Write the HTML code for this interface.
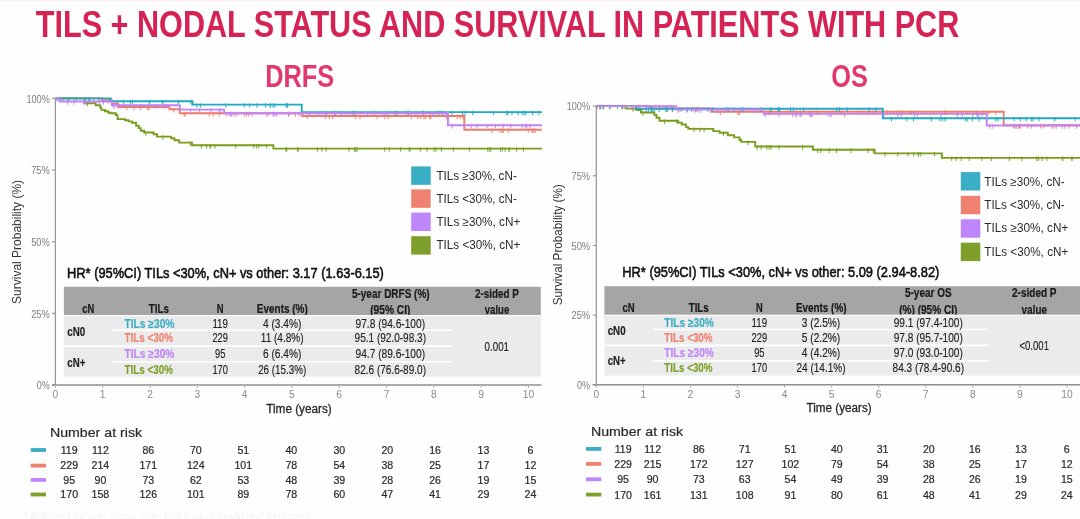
<!DOCTYPE html>
<html><head><meta charset="utf-8"><style>
html,body{margin:0;padding:0;background:#fff;width:1080px;height:519px;overflow:hidden}
svg{display:block;font-family:"Liberation Sans", sans-serif;filter:blur(0.4px)}
</style></head><body>
<svg width="1080" height="519" viewBox="0 0 1080 519">
<rect width="1080" height="519" fill="#fefefe"/>
<rect x="0" y="0" width="1080" height="1.5" fill="#fbeff1"/>
<text x="24" y="520" font-size="11" fill="#f3f3f3" textLength="286" lengthAdjust="spacingAndGlyphs">* Adjusted for age, tumor size, histological grade and treatment</text>
<text x="35.8" y="36.8" font-size="36.5" fill="#d52356" font-weight="bold" textLength="923.5" lengthAdjust="spacingAndGlyphs">TILS + NODAL STATUS AND SURVIVAL IN PATIENTS WITH PCR</text>
<text x="265.2" y="87.2" font-size="32.2" fill="#e3386d" font-weight="bold" textLength="69" lengthAdjust="spacingAndGlyphs">DRFS</text>
<text x="831.2" y="87.2" font-size="32.2" fill="#e3386d" font-weight="bold" textLength="36.6" lengthAdjust="spacingAndGlyphs">OS</text>
<path d="M55.4,98.4H85.2V103.2H95.6V105.2H100.2V107.6H101.4V109.9H104.9V111.3H108.3V112.8H111.2V113.3H115.8V115.1H117.6V119.1H125.1V120.3H128.6V121.4H132V122.8H136.1V125.8H138.8V128.1H140.8V130.8H144.2V132.5H153.6V134.2H157V136.6H171.1V138.3H174.5V140.3H179.2V142.6H192V145.3H273.4V148.6H541.9" fill="none" stroke="#7a9c1c" stroke-width="1.9" stroke-linejoin="miter"/>
<path d="M63.0,97.0V101.6M59.3,97.0V101.6M67.4,97.0V101.6M87.5,101.8V106.4M145.7,131.1V135.7M162.9,135.2V139.8M190.1,141.2V145.8M256.6,143.9V148.5M253.8,143.9V148.5M210.6,143.9V148.5M235.6,143.9V148.5M215.0,143.9V148.5M206.7,143.9V148.5M201.4,143.9V148.5M210.0,143.9V148.5M266.6,143.9V148.5M258.8,143.9V148.5M489.4,147.2V151.8M487.7,147.2V151.8M326.0,147.2V151.8M357.0,147.2V151.8M441.5,147.2V151.8M469.4,147.2V151.8M502.2,147.2V151.8M508.9,147.2V151.8M297.5,147.2V151.8M435.9,147.2V151.8M453.4,147.2V151.8M409.2,147.2V151.8M321.8,147.2V151.8M400.6,147.2V151.8M298.2,147.2V151.8M523.5,147.2V151.8M505.1,147.2V151.8M420.3,147.2V151.8M354.4,147.2V151.8M516.6,147.2V151.8M426.9,147.2V151.8M509.5,147.2V151.8M500.4,147.2V151.8M409.9,147.2V151.8M384.7,147.2V151.8M434.0,147.2V151.8M389.3,147.2V151.8M317.4,147.2V151.8M355.7,147.2V151.8M491.0,147.2V151.8M285.9,147.2V151.8M286.7,147.2V151.8M441.3,147.2V151.8M349.1,147.2V151.8" fill="none" stroke="#7a9c1c" stroke-width="1.1" opacity="0.85"/>
<path d="M55.4,98.4H101.9V100.2H112V103.5H118V107.0H169.4V109.3H179.8V113.2H302.5V116.0H464.3V129.8H541.9" fill="none" stroke="#f07c68" stroke-width="1.9" stroke-linejoin="miter"/>
<path d="M98.9,97.0V101.6M98.6,97.0V101.6M58.9,97.0V101.6M60.2,97.0V101.6M93.6,97.0V101.6M89.2,97.0V101.6M108.3,98.8V103.4M134.2,105.6V110.2M148.9,105.6V110.2M149.0,105.6V110.2M147.7,105.6V110.2M126.8,105.6V110.2M140.3,105.6V110.2M173.7,107.9V112.5M268.1,111.8V116.4M300.9,111.8V116.4M295.4,111.8V116.4M246.5,111.8V116.4M234.5,111.8V116.4M213.2,111.8V116.4M185.1,111.8V116.4M184.1,111.8V116.4M236.9,111.8V116.4M219.2,111.8V116.4M226.7,111.8V116.4M288.4,111.8V116.4M244.3,111.8V116.4M248.5,111.8V116.4M209.3,111.8V116.4M307.3,114.6V119.2M355.5,114.6V119.2M325.3,114.6V119.2M385.0,114.6V119.2M463.1,114.6V119.2M411.3,114.6V119.2M332.6,114.6V119.2M446.3,114.6V119.2M430.8,114.6V119.2M420.9,114.6V119.2M448.4,114.6V119.2M425.4,114.6V119.2M429.7,114.6V119.2M360.0,114.6V119.2M460.3,114.6V119.2M457.2,114.6V119.2M329.3,114.6V119.2M424.0,114.6V119.2M417.8,114.6V119.2M377.2,114.6V119.2M388.3,114.6V119.2M502.3,128.4V133.0M535.2,128.4V133.0M503.2,128.4V133.0M528.2,128.4V133.0M492.1,128.4V133.0M532.0,128.4V133.0M533.3,128.4V133.0M500.2,128.4V133.0M508.2,128.4V133.0M534.9,128.4V133.0" fill="none" stroke="#f07c68" stroke-width="1.1" opacity="0.85"/>
<path d="M55.4,98.4H110.7V101.2H192.5V104.6H301.7V112.1H541.9" fill="none" stroke="#22a9c2" stroke-width="1.9" stroke-linejoin="miter"/>
<path d="M69.1,97.0V101.6M85.4,97.0V101.6M76.1,97.0V101.6M88.6,97.0V101.6M89.8,97.0V101.6M59.9,97.0V101.6M57.1,97.0V101.6M178.5,99.8V104.4M132.4,99.8V104.4M130.4,99.8V104.4M191.2,99.8V104.4M149.2,99.8V104.4M178.4,99.8V104.4M149.7,99.8V104.4M162.7,99.8V104.4M123.7,99.8V104.4M162.4,99.8V104.4M286.6,103.2V107.8M249.6,103.2V107.8M273.0,103.2V107.8M265.5,103.2V107.8M200.4,103.2V107.8M274.8,103.2V107.8M256.9,103.2V107.8M225.8,103.2V107.8M196.8,103.2V107.8M286.3,103.2V107.8M244.2,103.2V107.8M270.6,103.2V107.8M287.7,103.2V107.8M270.1,103.2V107.8M522.1,110.7V115.3M396.8,110.7V115.3M493.5,110.7V115.3M408.6,110.7V115.3M525.6,110.7V115.3M512.0,110.7V115.3M325.9,110.7V115.3M335.1,110.7V115.3M354.4,110.7V115.3M532.7,110.7V115.3M406.6,110.7V115.3M452.0,110.7V115.3M374.4,110.7V115.3M423.5,110.7V115.3M394.6,110.7V115.3M386.3,110.7V115.3M442.1,110.7V115.3M441.9,110.7V115.3M518.1,110.7V115.3M465.1,110.7V115.3M524.0,110.7V115.3M506.7,110.7V115.3M538.8,110.7V115.3M462.6,110.7V115.3M341.6,110.7V115.3M507.7,110.7V115.3M532.5,110.7V115.3M518.2,110.7V115.3M438.3,110.7V115.3M472.7,110.7V115.3M353.0,110.7V115.3" fill="none" stroke="#22a9c2" stroke-width="1.1" opacity="0.85"/>
<path d="M55.4,98.4H60V101.5H112V105.2H179.8V109.6H224.1V113.2H447.9V125.2H541.9" fill="none" stroke="#c183f5" stroke-width="1.9" stroke-linejoin="miter"/>
<path d="M67.7,100.1V104.7M103.4,100.1V104.7M99.2,100.1V104.7M73.8,100.1V104.7M85.8,100.1V104.7M83.5,100.1V104.7M155.9,103.8V108.4M164.9,103.8V108.4M119.2,103.8V108.4M114.9,103.8V108.4M168.0,103.8V108.4M141.5,103.8V108.4M163.2,103.8V108.4M113.1,103.8V108.4M199.6,108.2V112.8M211.3,108.2V112.8M190.5,108.2V112.8M220.8,108.2V112.8M218.9,108.2V112.8M231.9,111.8V116.4M230.7,111.8V116.4M345.2,111.8V116.4M433.4,111.8V116.4M309.7,111.8V116.4M273.1,111.8V116.4M318.7,111.8V116.4M231.5,111.8V116.4M274.3,111.8V116.4M322.2,111.8V116.4M335.1,111.8V116.4M276.8,111.8V116.4M276.3,111.8V116.4M273.6,111.8V116.4M327.0,111.8V116.4M289.4,111.8V116.4M229.9,111.8V116.4M410.9,111.8V116.4M348.5,111.8V116.4M367.6,111.8V116.4M266.3,111.8V116.4M445.2,111.8V116.4M415.8,111.8V116.4M251.9,111.8V116.4M298.9,111.8V116.4M385.1,111.8V116.4M382.8,111.8V116.4M432.8,111.8V116.4M318.7,111.8V116.4M525.3,123.8V128.4M510.6,123.8V128.4M476.8,123.8V128.4M503.0,123.8V128.4M530.1,123.8V128.4M526.8,123.8V128.4M495.4,123.8V128.4M503.1,123.8V128.4M452.1,123.8V128.4M471.2,123.8V128.4M522.3,123.8V128.4M487.0,123.8V128.4" fill="none" stroke="#c183f5" stroke-width="1.1" opacity="0.85"/>
<path d="M596.3,106.1H626.1V108.6H636.5V110H640.9V112.5H654.3V114.9H656.5V117.8H659.4V120.8H678V122.6H681.7V124.5H686.1V127.1H688.3V128.9H713.3V131.1H719.6V132.7H727.8V135.2H734.1V137.4H739.6V140H741.1V141.9H755.2V146.5H812.9V149.7H874.7V153.4H941.9V157.9H1080" fill="none" stroke="#7a9c1c" stroke-width="1.9" stroke-linejoin="miter"/>
<path d="M603.6,104.7V109.3M624.1,104.7V109.3M600.8,104.7V109.3M633.0,107.2V111.8M642.9,111.1V115.7M664.5,119.4V124.0M677.0,119.4V124.0M694.1,127.5V132.1M704.1,127.5V132.1M699.9,127.5V132.1M723.4,131.3V135.9M748.1,140.5V145.1M766.9,145.1V149.7M802.5,145.1V149.7M761.2,145.1V149.7M769.2,145.1V149.7M757.3,145.1V149.7M771.1,145.1V149.7M778.9,145.1V149.7M867.8,148.3V152.9M836.6,148.3V152.9M820.7,148.3V152.9M829.3,148.3V152.9M873.2,148.3V152.9M817.7,148.3V152.9M851.0,148.3V152.9M836.5,148.3V152.9M918.8,152.0V156.6M897.8,152.0V156.6M920.8,152.0V156.6M908.1,152.0V156.6M918.1,152.0V156.6M934.5,152.0V156.6M913.6,152.0V156.6M885.0,152.0V156.6M951.7,156.5V161.1M1071.7,156.5V161.1M1009.4,156.5V161.1M969.3,156.5V161.1M1071.7,156.5V161.1M1021.7,156.5V161.1M1042.1,156.5V161.1M1062.8,156.5V161.1M981.8,156.5V161.1M991.4,156.5V161.1M1062.4,156.5V161.1M961.3,156.5V161.1M1046.9,156.5V161.1M956.2,156.5V161.1M1036.8,156.5V161.1M1038.5,156.5V161.1M1072.2,156.5V161.1" fill="none" stroke="#7a9c1c" stroke-width="1.1" opacity="0.85"/>
<path d="M596.3,106.1H650V108.5H711V111.8H1003.7V125.2H1080" fill="none" stroke="#f07c68" stroke-width="1.9" stroke-linejoin="miter"/>
<path d="M638.3,104.7V109.3M639.8,104.7V109.3M622.4,104.7V109.3M610.8,104.7V109.3M597.3,104.7V109.3M631.6,104.7V109.3M678.7,107.1V111.7M695.8,107.1V111.7M673.0,107.1V111.7M696.4,107.1V111.7M667.1,107.1V111.7M698.3,107.1V111.7M694.1,107.1V111.7M832.4,110.4V115.0M868.5,110.4V115.0M910.3,110.4V115.0M768.1,110.4V115.0M872.9,110.4V115.0M946.0,110.4V115.0M789.2,110.4V115.0M945.5,110.4V115.0M911.3,110.4V115.0M957.4,110.4V115.0M809.6,110.4V115.0M739.1,110.4V115.0M944.6,110.4V115.0M945.9,110.4V115.0M841.4,110.4V115.0M739.3,110.4V115.0M769.3,110.4V115.0M896.6,110.4V115.0M796.6,110.4V115.0M988.6,110.4V115.0M883.1,110.4V115.0M770.4,110.4V115.0M902.5,110.4V115.0M816.8,110.4V115.0M983.1,110.4V115.0M976.4,110.4V115.0M861.6,110.4V115.0M899.4,110.4V115.0M914.9,110.4V115.0M946.2,110.4V115.0M995.8,110.4V115.0M720.3,110.4V115.0M817.1,110.4V115.0M886.9,110.4V115.0M800.5,110.4V115.0M883.3,110.4V115.0M738.1,110.4V115.0M967.8,110.4V115.0M1043.7,123.8V128.4M1013.4,123.8V128.4M1053.9,123.8V128.4M1027.9,123.8V128.4M1019.3,123.8V128.4M1040.6,123.8V128.4M1015.0,123.8V128.4M1020.3,123.8V128.4M1069.0,123.8V128.4" fill="none" stroke="#f07c68" stroke-width="1.1" opacity="0.85"/>
<path d="M596.3,106.1H636V108.7H882.8V118.3H1080" fill="none" stroke="#22a9c2" stroke-width="1.9" stroke-linejoin="miter"/>
<path d="M609.5,104.7V109.3M603.0,104.7V109.3M621.8,104.7V109.3M600.0,104.7V109.3M617.5,104.7V109.3M726.5,107.3V111.9M651.2,107.3V111.9M761.2,107.3V111.9M646.2,107.3V111.9M743.2,107.3V111.9M654.1,107.3V111.9M659.2,107.3V111.9M740.9,107.3V111.9M839.4,107.3V111.9M667.3,107.3V111.9M691.6,107.3V111.9M790.6,107.3V111.9M869.0,107.3V111.9M778.3,107.3V111.9M734.1,107.3V111.9M876.0,107.3V111.9M648.4,107.3V111.9M847.2,107.3V111.9M707.9,107.3V111.9M672.3,107.3V111.9M665.8,107.3V111.9M712.5,107.3V111.9M836.8,107.3V111.9M681.2,107.3V111.9M779.4,107.3V111.9M793.4,107.3V111.9M728.2,107.3V111.9M771.1,107.3V111.9M652.4,107.3V111.9M651.6,107.3V111.9M687.4,107.3V111.9M803.6,107.3V111.9M967.3,116.9V121.5M945.1,116.9V121.5M998.1,116.9V121.5M972.3,116.9V121.5M942.3,116.9V121.5M1038.9,116.9V121.5M1020.2,116.9V121.5M931.4,116.9V121.5M995.9,116.9V121.5M986.3,116.9V121.5M1054.6,116.9V121.5M1026.2,116.9V121.5M940.0,116.9V121.5M1075.1,116.9V121.5M906.8,116.9V121.5M965.4,116.9V121.5M1031.6,116.9V121.5M913.5,116.9V121.5M979.2,116.9V121.5M891.5,116.9V121.5M1014.2,116.9V121.5M1033.0,116.9V121.5M995.7,116.9V121.5M1054.7,116.9V121.5M945.0,116.9V121.5" fill="none" stroke="#22a9c2" stroke-width="1.1" opacity="0.85"/>
<path d="M596.3,106.1H676.1V109.6H763.6V113.9H986.7V125.5H1080" fill="none" stroke="#c183f5" stroke-width="1.9" stroke-linejoin="miter"/>
<path d="M645.8,104.7V109.3M655.0,104.7V109.3M659.2,104.7V109.3M670.6,104.7V109.3M654.9,104.7V109.3M669.1,104.7V109.3M599.6,104.7V109.3M633.5,104.7V109.3M670.7,104.7V109.3M647.8,104.7V109.3M754.1,108.2V112.8M686.8,108.2V112.8M717.2,108.2V112.8M698.2,108.2V112.8M723.6,108.2V112.8M726.2,108.2V112.8M678.2,108.2V112.8M695.6,108.2V112.8M701.0,108.2V112.8M755.4,108.2V112.8M742.6,108.2V112.8M799.9,112.5V117.1M940.8,112.5V117.1M795.3,112.5V117.1M901.1,112.5V117.1M792.6,112.5V117.1M765.0,112.5V117.1M957.3,112.5V117.1M810.9,112.5V117.1M812.2,112.5V117.1M981.8,112.5V117.1M957.5,112.5V117.1M828.6,112.5V117.1M977.2,112.5V117.1M883.8,112.5V117.1M914.5,112.5V117.1M809.9,112.5V117.1M972.6,112.5V117.1M917.3,112.5V117.1M978.3,112.5V117.1M962.2,112.5V117.1M830.7,112.5V117.1M844.5,112.5V117.1M801.3,112.5V117.1M796.8,112.5V117.1M779.0,112.5V117.1M831.2,112.5V117.1M897.9,112.5V117.1M765.3,112.5V117.1M914.5,112.5V117.1M1018.5,124.1V128.7M1016.0,124.1V128.7M1062.4,124.1V128.7M1031.6,124.1V128.7M1016.5,124.1V128.7M1031.6,124.1V128.7M1052.0,124.1V128.7M992.9,124.1V128.7M1076.7,124.1V128.7M989.8,124.1V128.7M1056.2,124.1V128.7M1064.8,124.1V128.7" fill="none" stroke="#c183f5" stroke-width="1.1" opacity="0.85"/>
<line x1="55.4" y1="98.4" x2="55.4" y2="385.0" stroke="#969696" stroke-width="1.25"/>
<line x1="51.9" y1="98.4" x2="55.4" y2="98.4" stroke="#9a9a9a" stroke-width="1.2"/>
<text x="49.8" y="102.6" font-size="11" fill="#7e7e7e" text-anchor="end" textLength="23.4" lengthAdjust="spacingAndGlyphs">100%</text>
<line x1="51.9" y1="170.05" x2="55.4" y2="170.05" stroke="#9a9a9a" stroke-width="1.2"/>
<text x="49.8" y="174.2" font-size="11" fill="#7e7e7e" text-anchor="end" textLength="18.6" lengthAdjust="spacingAndGlyphs">75%</text>
<line x1="51.9" y1="241.70000000000002" x2="55.4" y2="241.70000000000002" stroke="#9a9a9a" stroke-width="1.2"/>
<text x="49.8" y="245.9" font-size="11" fill="#7e7e7e" text-anchor="end" textLength="18.6" lengthAdjust="spacingAndGlyphs">50%</text>
<line x1="51.9" y1="313.35" x2="55.4" y2="313.35" stroke="#9a9a9a" stroke-width="1.2"/>
<text x="49.8" y="317.6" font-size="11" fill="#7e7e7e" text-anchor="end" textLength="18.6" lengthAdjust="spacingAndGlyphs">25%</text>
<line x1="51.9" y1="385.0" x2="55.4" y2="385.0" stroke="#9a9a9a" stroke-width="1.2"/>
<text x="49.8" y="389.2" font-size="11" fill="#7e7e7e" text-anchor="end" textLength="13" lengthAdjust="spacingAndGlyphs">0%</text>
<line x1="51.9" y1="385.0" x2="541.4" y2="385.0" stroke="#8e8e8e" stroke-width="1.6"/>
<line x1="55.4" y1="385.0" x2="55.4" y2="388.0" stroke="#b0b0b0" stroke-width="1"/>
<text x="55.4" y="398.3" font-size="10.2" fill="#8a8a8a" text-anchor="middle">0</text>
<line x1="102.69999999999999" y1="385.0" x2="102.69999999999999" y2="388.0" stroke="#b0b0b0" stroke-width="1"/>
<text x="102.7" y="398.3" font-size="10.2" fill="#8a8a8a" text-anchor="middle">1</text>
<line x1="150.0" y1="385.0" x2="150.0" y2="388.0" stroke="#b0b0b0" stroke-width="1"/>
<text x="150.0" y="398.3" font-size="10.2" fill="#8a8a8a" text-anchor="middle">2</text>
<line x1="197.29999999999998" y1="385.0" x2="197.29999999999998" y2="388.0" stroke="#b0b0b0" stroke-width="1"/>
<text x="197.3" y="398.3" font-size="10.2" fill="#8a8a8a" text-anchor="middle">3</text>
<line x1="244.6" y1="385.0" x2="244.6" y2="388.0" stroke="#b0b0b0" stroke-width="1"/>
<text x="244.6" y="398.3" font-size="10.2" fill="#8a8a8a" text-anchor="middle">4</text>
<line x1="291.9" y1="385.0" x2="291.9" y2="388.0" stroke="#b0b0b0" stroke-width="1"/>
<text x="291.9" y="398.3" font-size="10.2" fill="#8a8a8a" text-anchor="middle">5</text>
<line x1="339.19999999999993" y1="385.0" x2="339.19999999999993" y2="388.0" stroke="#b0b0b0" stroke-width="1"/>
<text x="339.2" y="398.3" font-size="10.2" fill="#8a8a8a" text-anchor="middle">6</text>
<line x1="386.49999999999994" y1="385.0" x2="386.49999999999994" y2="388.0" stroke="#b0b0b0" stroke-width="1"/>
<text x="386.5" y="398.3" font-size="10.2" fill="#8a8a8a" text-anchor="middle">7</text>
<line x1="433.79999999999995" y1="385.0" x2="433.79999999999995" y2="388.0" stroke="#b0b0b0" stroke-width="1"/>
<text x="433.8" y="398.3" font-size="10.2" fill="#8a8a8a" text-anchor="middle">8</text>
<line x1="481.09999999999997" y1="385.0" x2="481.09999999999997" y2="388.0" stroke="#b0b0b0" stroke-width="1"/>
<text x="481.1" y="398.3" font-size="10.2" fill="#8a8a8a" text-anchor="middle">9</text>
<line x1="528.4" y1="385.0" x2="528.4" y2="388.0" stroke="#b0b0b0" stroke-width="1"/>
<text x="528.4" y="398.3" font-size="10.2" fill="#8a8a8a" text-anchor="middle">10</text>
<line x1="596.3" y1="106.1" x2="596.3" y2="384.8" stroke="#969696" stroke-width="1.25"/>
<line x1="592.8" y1="106.1" x2="596.3" y2="106.1" stroke="#9a9a9a" stroke-width="1.2"/>
<text x="590.1" y="110.3" font-size="11" fill="#7e7e7e" text-anchor="end" textLength="23.4" lengthAdjust="spacingAndGlyphs">100%</text>
<line x1="592.8" y1="175.775" x2="596.3" y2="175.775" stroke="#9a9a9a" stroke-width="1.2"/>
<text x="590.1" y="180.0" font-size="11" fill="#7e7e7e" text-anchor="end" textLength="18.6" lengthAdjust="spacingAndGlyphs">75%</text>
<line x1="592.8" y1="245.45000000000002" x2="596.3" y2="245.45000000000002" stroke="#9a9a9a" stroke-width="1.2"/>
<text x="590.1" y="249.7" font-size="11" fill="#7e7e7e" text-anchor="end" textLength="18.6" lengthAdjust="spacingAndGlyphs">50%</text>
<line x1="592.8" y1="315.125" x2="596.3" y2="315.125" stroke="#9a9a9a" stroke-width="1.2"/>
<text x="590.1" y="319.3" font-size="11" fill="#7e7e7e" text-anchor="end" textLength="18.6" lengthAdjust="spacingAndGlyphs">25%</text>
<line x1="592.8" y1="384.80000000000007" x2="596.3" y2="384.80000000000007" stroke="#9a9a9a" stroke-width="1.2"/>
<text x="590.1" y="389.0" font-size="11" fill="#7e7e7e" text-anchor="end" textLength="13" lengthAdjust="spacingAndGlyphs">0%</text>
<line x1="592.8" y1="384.8" x2="1080" y2="384.8" stroke="#8e8e8e" stroke-width="1.6"/>
<line x1="596.3" y1="384.8" x2="596.3" y2="387.8" stroke="#b0b0b0" stroke-width="1"/>
<text x="596.3" y="398.1" font-size="10.2" fill="#8a8a8a" text-anchor="middle">0</text>
<line x1="643.37" y1="384.8" x2="643.37" y2="387.8" stroke="#b0b0b0" stroke-width="1"/>
<text x="643.4" y="398.1" font-size="10.2" fill="#8a8a8a" text-anchor="middle">1</text>
<line x1="690.4399999999999" y1="384.8" x2="690.4399999999999" y2="387.8" stroke="#b0b0b0" stroke-width="1"/>
<text x="690.4" y="398.1" font-size="10.2" fill="#8a8a8a" text-anchor="middle">2</text>
<line x1="737.51" y1="384.8" x2="737.51" y2="387.8" stroke="#b0b0b0" stroke-width="1"/>
<text x="737.5" y="398.1" font-size="10.2" fill="#8a8a8a" text-anchor="middle">3</text>
<line x1="784.5799999999999" y1="384.8" x2="784.5799999999999" y2="387.8" stroke="#b0b0b0" stroke-width="1"/>
<text x="784.6" y="398.1" font-size="10.2" fill="#8a8a8a" text-anchor="middle">4</text>
<line x1="831.65" y1="384.8" x2="831.65" y2="387.8" stroke="#b0b0b0" stroke-width="1"/>
<text x="831.6" y="398.1" font-size="10.2" fill="#8a8a8a" text-anchor="middle">5</text>
<line x1="878.72" y1="384.8" x2="878.72" y2="387.8" stroke="#b0b0b0" stroke-width="1"/>
<text x="878.7" y="398.1" font-size="10.2" fill="#8a8a8a" text-anchor="middle">6</text>
<line x1="925.79" y1="384.8" x2="925.79" y2="387.8" stroke="#b0b0b0" stroke-width="1"/>
<text x="925.8" y="398.1" font-size="10.2" fill="#8a8a8a" text-anchor="middle">7</text>
<line x1="972.8599999999999" y1="384.8" x2="972.8599999999999" y2="387.8" stroke="#b0b0b0" stroke-width="1"/>
<text x="972.9" y="398.1" font-size="10.2" fill="#8a8a8a" text-anchor="middle">8</text>
<line x1="1019.93" y1="384.8" x2="1019.93" y2="387.8" stroke="#b0b0b0" stroke-width="1"/>
<text x="1019.9" y="398.1" font-size="10.2" fill="#8a8a8a" text-anchor="middle">9</text>
<line x1="1067.0" y1="384.8" x2="1067.0" y2="387.8" stroke="#b0b0b0" stroke-width="1"/>
<text x="1067.0" y="398.1" font-size="10.2" fill="#8a8a8a" text-anchor="middle">10</text>
<text transform="translate(21.2,241.9) rotate(-90)" font-size="13" fill="#333" text-anchor="middle" textLength="124" lengthAdjust="spacingAndGlyphs">Survival Probability (%)</text>
<text transform="translate(561.9,244.8) rotate(-90)" font-size="13" fill="#333" text-anchor="middle" textLength="121" lengthAdjust="spacingAndGlyphs">Survival Probability (%)</text>
<text x="266.25" y="412.5" font-size="12" fill="#2a2a2a" textLength="65.5" lengthAdjust="spacingAndGlyphs" stroke="#2a2a2a" stroke-width="0.3">Time (years)</text>
<text x="806.6" y="411.5" font-size="12" fill="#2a2a2a" textLength="65" lengthAdjust="spacingAndGlyphs" stroke="#2a2a2a" stroke-width="0.3">Time (years)</text>
<rect x="411.2" y="166.4" width="19.5" height="18.4" fill="#3aaec4"/>
<text x="436.4" y="179.8" font-size="12.3" fill="#2a2a2a" textLength="80.4" lengthAdjust="spacingAndGlyphs">TILs ≥30%, cN-</text>
<rect x="411.2" y="189.4" width="19.5" height="18.4" fill="#f08070"/>
<text x="436.4" y="202.6" font-size="12.3" fill="#2a2a2a" textLength="80.4" lengthAdjust="spacingAndGlyphs">TILs &lt;30%, cN-</text>
<rect x="411.2" y="212.6" width="19.5" height="18.4" fill="#bf85fa"/>
<text x="436.4" y="225.8" font-size="12.3" fill="#2a2a2a" textLength="84" lengthAdjust="spacingAndGlyphs">TILs ≥30%, cN+</text>
<rect x="411.2" y="236.2" width="19.5" height="18.4" fill="#7ea02a"/>
<text x="436.4" y="249.1" font-size="12.3" fill="#2a2a2a" textLength="84" lengthAdjust="spacingAndGlyphs">TILs &lt;30%, cN+</text>
<rect x="960.8" y="172.1" width="19.5" height="18.4" fill="#3aaec4"/>
<text x="984.3" y="185.6" font-size="12.3" fill="#2a2a2a" textLength="80.4" lengthAdjust="spacingAndGlyphs">TILs ≥30%, cN-</text>
<rect x="960.8" y="195.8" width="19.5" height="18.4" fill="#f08070"/>
<text x="984.3" y="208.6" font-size="12.3" fill="#2a2a2a" textLength="80.4" lengthAdjust="spacingAndGlyphs">TILs &lt;30%, cN-</text>
<rect x="960.8" y="219.3" width="19.5" height="18.4" fill="#bf85fa"/>
<text x="984.3" y="232.2" font-size="12.3" fill="#2a2a2a" textLength="84" lengthAdjust="spacingAndGlyphs">TILs ≥30%, cN+</text>
<rect x="960.8" y="242.7" width="19.5" height="18.4" fill="#7ea02a"/>
<text x="984.3" y="255.5" font-size="12.3" fill="#2a2a2a" textLength="84" lengthAdjust="spacingAndGlyphs">TILs &lt;30%, cN+</text>
<text x="67.1" y="277.6" font-size="15.5" fill="#111" textLength="316.8" lengthAdjust="spacingAndGlyphs" stroke="#111" stroke-width="0.6">HR* (95%CI) TILs &lt;30%, cN+ vs other: 3.17 (1.63-6.15)</text>
<text x="622.3" y="277.1" font-size="15.5" fill="#111" textLength="317" lengthAdjust="spacingAndGlyphs" stroke="#111" stroke-width="0.6">HR* (95%CI) TILs &lt;30%, cN+ vs other: 5.09 (2.94-8.82)</text>
<rect x="63.9" y="286.8" width="476.9" height="30.19999999999999" fill="#a5a5a5"/>
<text x="88.3" y="312.9" font-size="12.2" fill="#1a1a1a" font-weight="bold" text-anchor="middle" textLength="12.1" lengthAdjust="spacingAndGlyphs" stroke="#1a1a1a" stroke-width="0.2">cN</text>
<text x="158.9" y="312.9" font-size="12.2" fill="#1a1a1a" font-weight="bold" text-anchor="middle" textLength="20.1" lengthAdjust="spacingAndGlyphs" stroke="#1a1a1a" stroke-width="0.2">TILs</text>
<text x="220.1" y="312.9" font-size="12.2" fill="#1a1a1a" font-weight="bold" text-anchor="middle" textLength="6.8" lengthAdjust="spacingAndGlyphs" stroke="#1a1a1a" stroke-width="0.2">N</text>
<text x="282.3" y="312.9" font-size="12.2" fill="#1a1a1a" font-weight="bold" text-anchor="middle" textLength="50.9" lengthAdjust="spacingAndGlyphs" stroke="#1a1a1a" stroke-width="0.2">Events (%)</text>
<text x="390.8" y="297.8" font-size="12.2" fill="#1a1a1a" font-weight="bold" text-anchor="middle" textLength="77.7" lengthAdjust="spacingAndGlyphs" stroke="#1a1a1a" stroke-width="0.2">5-year DRFS (%)</text>
<text x="390.3" y="314.3" font-size="12.2" fill="#1a1a1a" font-weight="bold" text-anchor="middle" textLength="40.2" lengthAdjust="spacingAndGlyphs" stroke="#1a1a1a" stroke-width="0.2">(95% CI)</text>
<text x="497" y="298" font-size="12.2" fill="#1a1a1a" font-weight="bold" text-anchor="middle" textLength="43.9" lengthAdjust="spacingAndGlyphs" stroke="#1a1a1a" stroke-width="0.2">2-sided P</text>
<text x="497" y="314" font-size="12.2" fill="#1a1a1a" font-weight="bold" text-anchor="middle" textLength="24.5" lengthAdjust="spacingAndGlyphs" stroke="#1a1a1a" stroke-width="0.2">value</text>
<rect x="63.9" y="315" width="476.9" height="61.60000000000002" fill="#ebebeb"/>
<line x1="63.9" y1="315.6" x2="540.8" y2="315.6" stroke="#fafafa" stroke-width="1.3"/>
<line x1="112.7" y1="330.3" x2="451.7" y2="330.3" stroke="#ffffff" stroke-width="1.5"/>
<line x1="63.9" y1="346.2" x2="451.7" y2="346.2" stroke="#ffffff" stroke-width="1.8"/>
<line x1="112.7" y1="361.8" x2="451.7" y2="361.8" stroke="#ffffff" stroke-width="1.5"/>
<text x="67.3" y="336.2" font-size="12.2" fill="#1a1a1a" font-weight="bold" textLength="18" lengthAdjust="spacingAndGlyphs" stroke="#1a1a1a" stroke-width="0.15">cN0</text>
<text x="67.3" y="366.6" font-size="12.2" fill="#1a1a1a" font-weight="bold" textLength="18" lengthAdjust="spacingAndGlyphs" stroke="#1a1a1a" stroke-width="0.15">cN+</text>
<text x="124.4" y="327.5" font-size="12.2" fill="#3aaec4" font-weight="bold" textLength="50.1" lengthAdjust="spacingAndGlyphs" stroke="#3aaec4" stroke-width="0.15">TILs ≥30%</text>
<text x="124.4" y="342.3" font-size="12.2" fill="#f08070" font-weight="bold" textLength="48.6" lengthAdjust="spacingAndGlyphs" stroke="#f08070" stroke-width="0.15">TILs &lt;30%</text>
<text x="124.4" y="358.2" font-size="12.2" fill="#bf85fa" font-weight="bold" textLength="50.1" lengthAdjust="spacingAndGlyphs" stroke="#bf85fa" stroke-width="0.15">TILs ≥30%</text>
<text x="124.4" y="373.8" font-size="12.2" fill="#7ea02a" font-weight="bold" textLength="48.6" lengthAdjust="spacingAndGlyphs" stroke="#7ea02a" stroke-width="0.15">TILs &lt;30%</text>
<text x="220.2" y="327.5" font-size="12.8" fill="#222" text-anchor="middle" textLength="15.5" lengthAdjust="spacingAndGlyphs" stroke="#222" stroke-width="0.15">119</text>
<text x="220.2" y="342.3" font-size="12.8" fill="#222" text-anchor="middle" textLength="15.5" lengthAdjust="spacingAndGlyphs" stroke="#222" stroke-width="0.15">229</text>
<text x="220.2" y="358.2" font-size="12.8" fill="#222" text-anchor="middle" textLength="10.3" lengthAdjust="spacingAndGlyphs" stroke="#222" stroke-width="0.15">95</text>
<text x="220.2" y="373.8" font-size="12.8" fill="#222" text-anchor="middle" textLength="15.5" lengthAdjust="spacingAndGlyphs" stroke="#222" stroke-width="0.15">170</text>
<text x="282.2" y="327.5" font-size="12.8" fill="#222" text-anchor="middle" textLength="38.4" lengthAdjust="spacingAndGlyphs" stroke="#222" stroke-width="0.15">4 (3.4%)</text>
<text x="282.2" y="342.3" font-size="12.8" fill="#222" text-anchor="middle" textLength="42.7" lengthAdjust="spacingAndGlyphs" stroke="#222" stroke-width="0.15">11 (4.8%)</text>
<text x="282.2" y="358.2" font-size="12.8" fill="#222" text-anchor="middle" textLength="38.4" lengthAdjust="spacingAndGlyphs" stroke="#222" stroke-width="0.15">6 (6.4%)</text>
<text x="282.2" y="373.8" font-size="12.8" fill="#222" text-anchor="middle" textLength="48.1" lengthAdjust="spacingAndGlyphs" stroke="#222" stroke-width="0.15">26 (15.3%)</text>
<text x="390.3" y="327.5" font-size="12.8" fill="#222" text-anchor="middle" textLength="69.5" lengthAdjust="spacingAndGlyphs" stroke="#222" stroke-width="0.15">97.8 (94.6-100)</text>
<text x="390.3" y="342.3" font-size="12.8" fill="#222" text-anchor="middle" textLength="71.4" lengthAdjust="spacingAndGlyphs" stroke="#222" stroke-width="0.15">95.1 (92.0-98.3)</text>
<text x="390.3" y="358.2" font-size="12.8" fill="#222" text-anchor="middle" textLength="69.5" lengthAdjust="spacingAndGlyphs" stroke="#222" stroke-width="0.15">94.7 (89.6-100)</text>
<text x="390.3" y="373.8" font-size="12.8" fill="#222" text-anchor="middle" textLength="71.4" lengthAdjust="spacingAndGlyphs" stroke="#222" stroke-width="0.15">82.6 (76.6-89.0)</text>
<text x="496.8" y="351" font-size="12.8" fill="#222" text-anchor="middle" textLength="24.5" lengthAdjust="spacingAndGlyphs" stroke="#222" stroke-width="0.15">0.001</text>
<rect x="604.4" y="286.2" width="475.6" height="30.600000000000023" fill="#a5a5a5"/>
<text x="628.6" y="312.2" font-size="12.2" fill="#1a1a1a" font-weight="bold" text-anchor="middle" textLength="12.2" lengthAdjust="spacingAndGlyphs" stroke="#1a1a1a" stroke-width="0.2">cN</text>
<text x="698.7" y="312.2" font-size="12.2" fill="#1a1a1a" font-weight="bold" text-anchor="middle" textLength="20" lengthAdjust="spacingAndGlyphs" stroke="#1a1a1a" stroke-width="0.2">TILs</text>
<text x="759.4" y="312.2" font-size="12.2" fill="#1a1a1a" font-weight="bold" text-anchor="middle" textLength="6.7" lengthAdjust="spacingAndGlyphs" stroke="#1a1a1a" stroke-width="0.2">N</text>
<text x="821.2" y="312.2" font-size="12.2" fill="#1a1a1a" font-weight="bold" text-anchor="middle" textLength="50.6" lengthAdjust="spacingAndGlyphs" stroke="#1a1a1a" stroke-width="0.2">Events (%)</text>
<text x="928.3" y="297" font-size="12.2" fill="#1a1a1a" font-weight="bold" text-anchor="middle" textLength="46.6" lengthAdjust="spacingAndGlyphs" stroke="#1a1a1a" stroke-width="0.2">5-year OS</text>
<text x="928.3" y="313.9" font-size="12.2" fill="#1a1a1a" font-weight="bold" text-anchor="middle" textLength="58.1" lengthAdjust="spacingAndGlyphs" stroke="#1a1a1a" stroke-width="0.2">(%) (95% CI)</text>
<text x="1034.3" y="297" font-size="12.2" fill="#1a1a1a" font-weight="bold" text-anchor="middle" textLength="44.5" lengthAdjust="spacingAndGlyphs" stroke="#1a1a1a" stroke-width="0.2">2-sided P</text>
<text x="1034.3" y="313.9" font-size="12.2" fill="#1a1a1a" font-weight="bold" text-anchor="middle" textLength="25.5" lengthAdjust="spacingAndGlyphs" stroke="#1a1a1a" stroke-width="0.2">value</text>
<rect x="604.4" y="314.8" width="475.6" height="60.80000000000001" fill="#ebebeb"/>
<line x1="604.4" y1="315.40000000000003" x2="1080" y2="315.40000000000003" stroke="#fafafa" stroke-width="1.3"/>
<line x1="653" y1="329.6" x2="988.7" y2="329.6" stroke="#ffffff" stroke-width="1.5"/>
<line x1="604.4" y1="345.4" x2="988.7" y2="345.4" stroke="#ffffff" stroke-width="1.8"/>
<line x1="653" y1="360.7" x2="988.7" y2="360.7" stroke="#ffffff" stroke-width="1.5"/>
<text x="607.7" y="334.9" font-size="12.2" fill="#1a1a1a" font-weight="bold" textLength="17.9" lengthAdjust="spacingAndGlyphs" stroke="#1a1a1a" stroke-width="0.15">cN0</text>
<text x="607.7" y="364.8" font-size="12.2" fill="#1a1a1a" font-weight="bold" textLength="17.9" lengthAdjust="spacingAndGlyphs" stroke="#1a1a1a" stroke-width="0.15">cN+</text>
<text x="664.3" y="327.3" font-size="12.2" fill="#3aaec4" font-weight="bold" textLength="49.6" lengthAdjust="spacingAndGlyphs" stroke="#3aaec4" stroke-width="0.15">TILs ≥30%</text>
<text x="664.3" y="342.1" font-size="12.2" fill="#f08070" font-weight="bold" textLength="48.2" lengthAdjust="spacingAndGlyphs" stroke="#f08070" stroke-width="0.15">TILs &lt;30%</text>
<text x="664.3" y="357.0" font-size="12.2" fill="#bf85fa" font-weight="bold" textLength="49.6" lengthAdjust="spacingAndGlyphs" stroke="#bf85fa" stroke-width="0.15">TILs ≥30%</text>
<text x="664.3" y="372.3" font-size="12.2" fill="#7ea02a" font-weight="bold" textLength="48.2" lengthAdjust="spacingAndGlyphs" stroke="#7ea02a" stroke-width="0.15">TILs &lt;30%</text>
<text x="759.3" y="327.3" font-size="12.8" fill="#222" text-anchor="middle" textLength="15.5" lengthAdjust="spacingAndGlyphs" stroke="#222" stroke-width="0.15">119</text>
<text x="759.3" y="342.1" font-size="12.8" fill="#222" text-anchor="middle" textLength="15.5" lengthAdjust="spacingAndGlyphs" stroke="#222" stroke-width="0.15">229</text>
<text x="759.3" y="357.0" font-size="12.8" fill="#222" text-anchor="middle" textLength="10.3" lengthAdjust="spacingAndGlyphs" stroke="#222" stroke-width="0.15">95</text>
<text x="759.3" y="372.3" font-size="12.8" fill="#222" text-anchor="middle" textLength="15.5" lengthAdjust="spacingAndGlyphs" stroke="#222" stroke-width="0.15">170</text>
<text x="821.0" y="327.3" font-size="12.8" fill="#222" text-anchor="middle" textLength="38.5" lengthAdjust="spacingAndGlyphs" stroke="#222" stroke-width="0.15">3 (2.5%)</text>
<text x="821.0" y="342.1" font-size="12.8" fill="#222" text-anchor="middle" textLength="38.5" lengthAdjust="spacingAndGlyphs" stroke="#222" stroke-width="0.15">5 (2.2%)</text>
<text x="821.0" y="357.0" font-size="12.8" fill="#222" text-anchor="middle" textLength="38.5" lengthAdjust="spacingAndGlyphs" stroke="#222" stroke-width="0.15">4 (4.2%)</text>
<text x="821.0" y="372.3" font-size="12.8" fill="#222" text-anchor="middle" textLength="49.1" lengthAdjust="spacingAndGlyphs" stroke="#222" stroke-width="0.15">24 (14.1%)</text>
<text x="928.3" y="327.3" font-size="12.8" fill="#222" text-anchor="middle" textLength="69.1" lengthAdjust="spacingAndGlyphs" stroke="#222" stroke-width="0.15">99.1 (97.4-100)</text>
<text x="928.3" y="342.1" font-size="12.8" fill="#222" text-anchor="middle" textLength="69.1" lengthAdjust="spacingAndGlyphs" stroke="#222" stroke-width="0.15">97.8 (95.7-100)</text>
<text x="928.3" y="357.0" font-size="12.8" fill="#222" text-anchor="middle" textLength="69.1" lengthAdjust="spacingAndGlyphs" stroke="#222" stroke-width="0.15">97.0 (93.0-100)</text>
<text x="928.3" y="372.3" font-size="12.8" fill="#222" text-anchor="middle" textLength="71.4" lengthAdjust="spacingAndGlyphs" stroke="#222" stroke-width="0.15">84.3 (78.4-90.6)</text>
<text x="1034.2" y="350.4" font-size="12.8" fill="#222" text-anchor="middle" textLength="29.6" lengthAdjust="spacingAndGlyphs" stroke="#222" stroke-width="0.15">&lt;0.001</text>
<text x="49.9" y="437.2" font-size="13" fill="#2a2a2a" textLength="92.2" lengthAdjust="spacingAndGlyphs" stroke="#2a2a2a" stroke-width="0.2">Number at risk</text>
<rect x="30.7" y="448.1" width="15.3" height="3.8" fill="#3aaec4"/>
<text x="69.2" y="453.6" font-size="10.6" fill="#2a2a2a" text-anchor="middle" stroke="#2a2a2a" stroke-width="0.2">119</text>
<text x="100.4" y="453.6" font-size="10.6" fill="#2a2a2a" text-anchor="middle" stroke="#2a2a2a" stroke-width="0.2">112</text>
<text x="148.3" y="453.6" font-size="10.6" fill="#2a2a2a" text-anchor="middle" stroke="#2a2a2a" stroke-width="0.2">86</text>
<text x="195.8" y="453.6" font-size="10.6" fill="#2a2a2a" text-anchor="middle" stroke="#2a2a2a" stroke-width="0.2">70</text>
<text x="243.3" y="453.6" font-size="10.6" fill="#2a2a2a" text-anchor="middle" stroke="#2a2a2a" stroke-width="0.2">51</text>
<text x="291.3" y="453.6" font-size="10.6" fill="#2a2a2a" text-anchor="middle" stroke="#2a2a2a" stroke-width="0.2">40</text>
<text x="339.3" y="453.6" font-size="10.6" fill="#2a2a2a" text-anchor="middle" stroke="#2a2a2a" stroke-width="0.2">30</text>
<text x="387.3" y="453.6" font-size="10.6" fill="#2a2a2a" text-anchor="middle" stroke="#2a2a2a" stroke-width="0.2">20</text>
<text x="435.1" y="453.6" font-size="10.6" fill="#2a2a2a" text-anchor="middle" stroke="#2a2a2a" stroke-width="0.2">16</text>
<text x="483.5" y="453.6" font-size="10.6" fill="#2a2a2a" text-anchor="middle" stroke="#2a2a2a" stroke-width="0.2">13</text>
<text x="530.5" y="453.6" font-size="10.6" fill="#2a2a2a" text-anchor="middle" stroke="#2a2a2a" stroke-width="0.2">6</text>
<rect x="30.7" y="463.70000000000005" width="15.3" height="3.8" fill="#f08070"/>
<text x="69.2" y="469.1" font-size="10.6" fill="#2a2a2a" text-anchor="middle" stroke="#2a2a2a" stroke-width="0.2">229</text>
<text x="100.4" y="469.1" font-size="10.6" fill="#2a2a2a" text-anchor="middle" stroke="#2a2a2a" stroke-width="0.2">214</text>
<text x="148.3" y="469.1" font-size="10.6" fill="#2a2a2a" text-anchor="middle" stroke="#2a2a2a" stroke-width="0.2">171</text>
<text x="195.8" y="469.1" font-size="10.6" fill="#2a2a2a" text-anchor="middle" stroke="#2a2a2a" stroke-width="0.2">124</text>
<text x="243.3" y="469.1" font-size="10.6" fill="#2a2a2a" text-anchor="middle" stroke="#2a2a2a" stroke-width="0.2">101</text>
<text x="291.3" y="469.1" font-size="10.6" fill="#2a2a2a" text-anchor="middle" stroke="#2a2a2a" stroke-width="0.2">78</text>
<text x="339.3" y="469.1" font-size="10.6" fill="#2a2a2a" text-anchor="middle" stroke="#2a2a2a" stroke-width="0.2">54</text>
<text x="387.3" y="469.1" font-size="10.6" fill="#2a2a2a" text-anchor="middle" stroke="#2a2a2a" stroke-width="0.2">38</text>
<text x="435.1" y="469.1" font-size="10.6" fill="#2a2a2a" text-anchor="middle" stroke="#2a2a2a" stroke-width="0.2">25</text>
<text x="483.5" y="469.1" font-size="10.6" fill="#2a2a2a" text-anchor="middle" stroke="#2a2a2a" stroke-width="0.2">17</text>
<text x="530.5" y="469.1" font-size="10.6" fill="#2a2a2a" text-anchor="middle" stroke="#2a2a2a" stroke-width="0.2">12</text>
<rect x="30.7" y="478.0" width="15.3" height="3.8" fill="#bf85fa"/>
<text x="69.2" y="483.5" font-size="10.6" fill="#2a2a2a" text-anchor="middle" stroke="#2a2a2a" stroke-width="0.2">95</text>
<text x="100.4" y="483.5" font-size="10.6" fill="#2a2a2a" text-anchor="middle" stroke="#2a2a2a" stroke-width="0.2">90</text>
<text x="148.3" y="483.5" font-size="10.6" fill="#2a2a2a" text-anchor="middle" stroke="#2a2a2a" stroke-width="0.2">73</text>
<text x="195.8" y="483.5" font-size="10.6" fill="#2a2a2a" text-anchor="middle" stroke="#2a2a2a" stroke-width="0.2">62</text>
<text x="243.3" y="483.5" font-size="10.6" fill="#2a2a2a" text-anchor="middle" stroke="#2a2a2a" stroke-width="0.2">53</text>
<text x="291.3" y="483.5" font-size="10.6" fill="#2a2a2a" text-anchor="middle" stroke="#2a2a2a" stroke-width="0.2">48</text>
<text x="339.3" y="483.5" font-size="10.6" fill="#2a2a2a" text-anchor="middle" stroke="#2a2a2a" stroke-width="0.2">39</text>
<text x="387.3" y="483.5" font-size="10.6" fill="#2a2a2a" text-anchor="middle" stroke="#2a2a2a" stroke-width="0.2">28</text>
<text x="435.1" y="483.5" font-size="10.6" fill="#2a2a2a" text-anchor="middle" stroke="#2a2a2a" stroke-width="0.2">26</text>
<text x="483.5" y="483.5" font-size="10.6" fill="#2a2a2a" text-anchor="middle" stroke="#2a2a2a" stroke-width="0.2">19</text>
<text x="530.5" y="483.5" font-size="10.6" fill="#2a2a2a" text-anchor="middle" stroke="#2a2a2a" stroke-width="0.2">15</text>
<rect x="30.7" y="492.6" width="15.3" height="3.8" fill="#7ea02a"/>
<text x="69.2" y="498.3" font-size="10.6" fill="#2a2a2a" text-anchor="middle" stroke="#2a2a2a" stroke-width="0.2">170</text>
<text x="100.4" y="498.3" font-size="10.6" fill="#2a2a2a" text-anchor="middle" stroke="#2a2a2a" stroke-width="0.2">158</text>
<text x="148.3" y="498.3" font-size="10.6" fill="#2a2a2a" text-anchor="middle" stroke="#2a2a2a" stroke-width="0.2">126</text>
<text x="195.8" y="498.3" font-size="10.6" fill="#2a2a2a" text-anchor="middle" stroke="#2a2a2a" stroke-width="0.2">101</text>
<text x="243.3" y="498.3" font-size="10.6" fill="#2a2a2a" text-anchor="middle" stroke="#2a2a2a" stroke-width="0.2">89</text>
<text x="291.3" y="498.3" font-size="10.6" fill="#2a2a2a" text-anchor="middle" stroke="#2a2a2a" stroke-width="0.2">78</text>
<text x="339.3" y="498.3" font-size="10.6" fill="#2a2a2a" text-anchor="middle" stroke="#2a2a2a" stroke-width="0.2">60</text>
<text x="387.3" y="498.3" font-size="10.6" fill="#2a2a2a" text-anchor="middle" stroke="#2a2a2a" stroke-width="0.2">47</text>
<text x="435.1" y="498.3" font-size="10.6" fill="#2a2a2a" text-anchor="middle" stroke="#2a2a2a" stroke-width="0.2">41</text>
<text x="483.5" y="498.3" font-size="10.6" fill="#2a2a2a" text-anchor="middle" stroke="#2a2a2a" stroke-width="0.2">29</text>
<text x="530.5" y="498.3" font-size="10.6" fill="#2a2a2a" text-anchor="middle" stroke="#2a2a2a" stroke-width="0.2">24</text>
<text x="590.9" y="435.5" font-size="13" fill="#2a2a2a" textLength="92.2" lengthAdjust="spacingAndGlyphs" stroke="#2a2a2a" stroke-width="0.2">Number at risk</text>
<rect x="586" y="447.0" width="15.3" height="3.8" fill="#3aaec4"/>
<text x="623.1" y="452.6" font-size="10.6" fill="#2a2a2a" text-anchor="middle" stroke="#2a2a2a" stroke-width="0.2">119</text>
<text x="652.6" y="452.6" font-size="10.6" fill="#2a2a2a" text-anchor="middle" stroke="#2a2a2a" stroke-width="0.2">112</text>
<text x="698.8" y="452.6" font-size="10.6" fill="#2a2a2a" text-anchor="middle" stroke="#2a2a2a" stroke-width="0.2">86</text>
<text x="744.7" y="452.6" font-size="10.6" fill="#2a2a2a" text-anchor="middle" stroke="#2a2a2a" stroke-width="0.2">71</text>
<text x="790.4" y="452.6" font-size="10.6" fill="#2a2a2a" text-anchor="middle" stroke="#2a2a2a" stroke-width="0.2">51</text>
<text x="836.8" y="452.6" font-size="10.6" fill="#2a2a2a" text-anchor="middle" stroke="#2a2a2a" stroke-width="0.2">40</text>
<text x="882.6" y="452.6" font-size="10.6" fill="#2a2a2a" text-anchor="middle" stroke="#2a2a2a" stroke-width="0.2">31</text>
<text x="928.8" y="452.6" font-size="10.6" fill="#2a2a2a" text-anchor="middle" stroke="#2a2a2a" stroke-width="0.2">20</text>
<text x="974.8" y="452.6" font-size="10.6" fill="#2a2a2a" text-anchor="middle" stroke="#2a2a2a" stroke-width="0.2">16</text>
<text x="1021" y="452.6" font-size="10.6" fill="#2a2a2a" text-anchor="middle" stroke="#2a2a2a" stroke-width="0.2">13</text>
<text x="1066.8" y="452.6" font-size="10.6" fill="#2a2a2a" text-anchor="middle" stroke="#2a2a2a" stroke-width="0.2">6</text>
<rect x="586" y="462.0" width="15.3" height="3.8" fill="#f08070"/>
<text x="623.1" y="467.8" font-size="10.6" fill="#2a2a2a" text-anchor="middle" stroke="#2a2a2a" stroke-width="0.2">229</text>
<text x="652.6" y="467.8" font-size="10.6" fill="#2a2a2a" text-anchor="middle" stroke="#2a2a2a" stroke-width="0.2">215</text>
<text x="698.8" y="467.8" font-size="10.6" fill="#2a2a2a" text-anchor="middle" stroke="#2a2a2a" stroke-width="0.2">172</text>
<text x="744.7" y="467.8" font-size="10.6" fill="#2a2a2a" text-anchor="middle" stroke="#2a2a2a" stroke-width="0.2">127</text>
<text x="790.4" y="467.8" font-size="10.6" fill="#2a2a2a" text-anchor="middle" stroke="#2a2a2a" stroke-width="0.2">102</text>
<text x="836.8" y="467.8" font-size="10.6" fill="#2a2a2a" text-anchor="middle" stroke="#2a2a2a" stroke-width="0.2">79</text>
<text x="882.6" y="467.8" font-size="10.6" fill="#2a2a2a" text-anchor="middle" stroke="#2a2a2a" stroke-width="0.2">54</text>
<text x="928.8" y="467.8" font-size="10.6" fill="#2a2a2a" text-anchor="middle" stroke="#2a2a2a" stroke-width="0.2">38</text>
<text x="974.8" y="467.8" font-size="10.6" fill="#2a2a2a" text-anchor="middle" stroke="#2a2a2a" stroke-width="0.2">25</text>
<text x="1021" y="467.8" font-size="10.6" fill="#2a2a2a" text-anchor="middle" stroke="#2a2a2a" stroke-width="0.2">17</text>
<text x="1066.8" y="467.8" font-size="10.6" fill="#2a2a2a" text-anchor="middle" stroke="#2a2a2a" stroke-width="0.2">12</text>
<rect x="586" y="477.40000000000003" width="15.3" height="3.8" fill="#bf85fa"/>
<text x="623.1" y="483.2" font-size="10.6" fill="#2a2a2a" text-anchor="middle" stroke="#2a2a2a" stroke-width="0.2">95</text>
<text x="652.6" y="483.2" font-size="10.6" fill="#2a2a2a" text-anchor="middle" stroke="#2a2a2a" stroke-width="0.2">90</text>
<text x="698.8" y="483.2" font-size="10.6" fill="#2a2a2a" text-anchor="middle" stroke="#2a2a2a" stroke-width="0.2">73</text>
<text x="744.7" y="483.2" font-size="10.6" fill="#2a2a2a" text-anchor="middle" stroke="#2a2a2a" stroke-width="0.2">63</text>
<text x="790.4" y="483.2" font-size="10.6" fill="#2a2a2a" text-anchor="middle" stroke="#2a2a2a" stroke-width="0.2">54</text>
<text x="836.8" y="483.2" font-size="10.6" fill="#2a2a2a" text-anchor="middle" stroke="#2a2a2a" stroke-width="0.2">49</text>
<text x="882.6" y="483.2" font-size="10.6" fill="#2a2a2a" text-anchor="middle" stroke="#2a2a2a" stroke-width="0.2">39</text>
<text x="928.8" y="483.2" font-size="10.6" fill="#2a2a2a" text-anchor="middle" stroke="#2a2a2a" stroke-width="0.2">28</text>
<text x="974.8" y="483.2" font-size="10.6" fill="#2a2a2a" text-anchor="middle" stroke="#2a2a2a" stroke-width="0.2">26</text>
<text x="1021" y="483.2" font-size="10.6" fill="#2a2a2a" text-anchor="middle" stroke="#2a2a2a" stroke-width="0.2">19</text>
<text x="1066.8" y="483.2" font-size="10.6" fill="#2a2a2a" text-anchor="middle" stroke="#2a2a2a" stroke-width="0.2">15</text>
<rect x="586" y="492.70000000000005" width="15.3" height="3.8" fill="#7ea02a"/>
<text x="623.1" y="498.6" font-size="10.6" fill="#2a2a2a" text-anchor="middle" stroke="#2a2a2a" stroke-width="0.2">170</text>
<text x="652.6" y="498.6" font-size="10.6" fill="#2a2a2a" text-anchor="middle" stroke="#2a2a2a" stroke-width="0.2">161</text>
<text x="698.8" y="498.6" font-size="10.6" fill="#2a2a2a" text-anchor="middle" stroke="#2a2a2a" stroke-width="0.2">131</text>
<text x="744.7" y="498.6" font-size="10.6" fill="#2a2a2a" text-anchor="middle" stroke="#2a2a2a" stroke-width="0.2">108</text>
<text x="790.4" y="498.6" font-size="10.6" fill="#2a2a2a" text-anchor="middle" stroke="#2a2a2a" stroke-width="0.2">91</text>
<text x="836.8" y="498.6" font-size="10.6" fill="#2a2a2a" text-anchor="middle" stroke="#2a2a2a" stroke-width="0.2">80</text>
<text x="882.6" y="498.6" font-size="10.6" fill="#2a2a2a" text-anchor="middle" stroke="#2a2a2a" stroke-width="0.2">61</text>
<text x="928.8" y="498.6" font-size="10.6" fill="#2a2a2a" text-anchor="middle" stroke="#2a2a2a" stroke-width="0.2">48</text>
<text x="974.8" y="498.6" font-size="10.6" fill="#2a2a2a" text-anchor="middle" stroke="#2a2a2a" stroke-width="0.2">41</text>
<text x="1021" y="498.6" font-size="10.6" fill="#2a2a2a" text-anchor="middle" stroke="#2a2a2a" stroke-width="0.2">29</text>
<text x="1066.8" y="498.6" font-size="10.6" fill="#2a2a2a" text-anchor="middle" stroke="#2a2a2a" stroke-width="0.2">24</text>
</svg></body></html>
